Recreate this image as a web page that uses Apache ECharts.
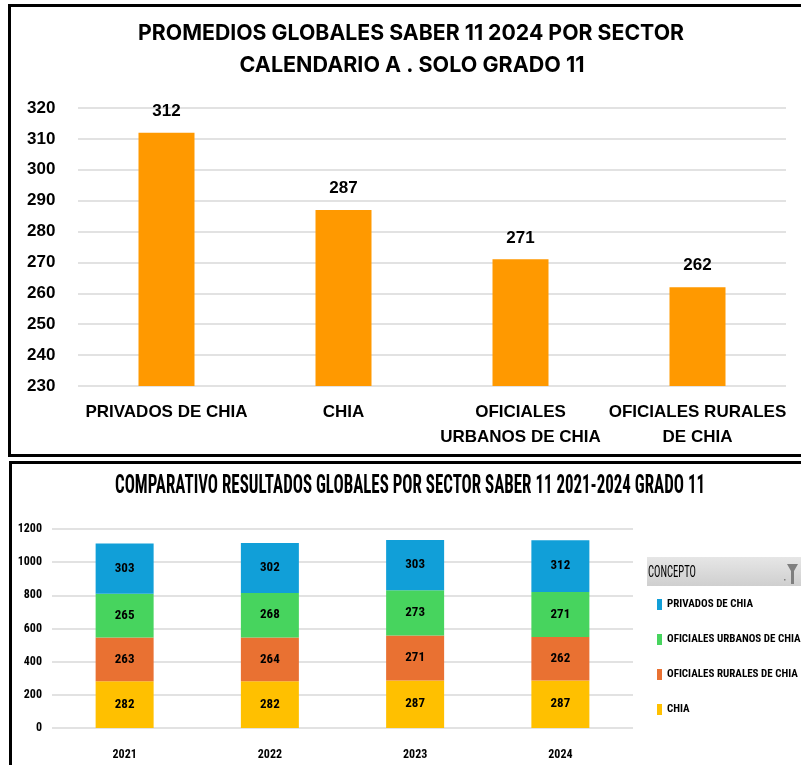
<!DOCTYPE html>
<html>
<head>
<meta charset="utf-8">
<script src="https://cdn.jsdelivr.net/npm/echarts@6/dist/echarts.min.js"></script>
<style>
  html, body { margin: 0; padding: 0; background: #fff; }
  #chart { position: absolute; left: 0; top: 0; width: 801px; height: 765px; }
  .box { position: absolute; border: 3px solid #000; box-sizing: border-box; pointer-events: none; }
</style>
</head>
<body>
<div id="chart"></div>
<div class="box" style="left:8px; top:4px; width:820px; height:453px;"></div>
<div class="box" style="left:9px; top:461px; width:820px; height:330px;"></div>
<script>
// Top chart: 2024 averages by sector
const topCats = ['PRIVADOS DE CHIA', 'CHIA', 'OFICIALES\nURBANOS DE CHIA', 'OFICIALES RURALES\nDE CHIA'];
const topVals = [312, 287, 271, 262];

// Bottom chart: 2021-2024 stacked comparison
const years = ['2021', '2022', '2023', '2024'];
const chia = [282, 282, 287, 287];
const rurales = [263, 264, 271, 262];
const urbanos = [265, 268, 273, 271];
const privados = [303, 302, 303, 312];
const legendNames = ['PRIVADOS DE CHIA', 'OFICIALES URBANOS DE CHIA', 'OFICIALES RURALES DE CHIA', 'CHIA'];

const COND = '"Roboto Condensed", "DejaVu Sans Condensed", sans-serif';
const ARIAL = '"Liberation Sans", Arial, sans-serif';
const INTER = 'Inter, "Liberation Sans", sans-serif';

// squeeze a text horizontally so it spans a given width (reference uses a narrower face)
const ctx = document.createElement('canvas').getContext('2d');
const fitX = (text, font, width) => { ctx.font = font; return width / ctx.measureText(text).width; };

const titleText = (text, x, y, font, width, align) => ({
  type: 'text', x, y, scaleX: width ? fitX(text, font, width) : 1,
  style: { text, x: 0, y: 0, align: align || 'center', verticalAlign: 'middle', textAlign: align || 'center', textVerticalAlign: 'middle', font, fill: '#000' }
});

const segLabel = { show: true, position: 'inside', color: '#000', fontFamily: COND, fontWeight: 'bold', fontSize: 13 };
const stacked = (name, data, color) => ({
  name, type: 'bar', stack: 'tot', xAxisIndex: 1, yAxisIndex: 1,
  data, barWidth: 58, itemStyle: { color }, label: segLabel
});

const bottomTitle = 'COMPARATIVO RESULTADOS GLOBALES POR SECTOR SABER 11 2021-2024 GRADO 11';

const chart = echarts.init(document.getElementById('chart'), null, { renderer: 'canvas' });
chart.setOption({
  animation: false,
  grid: [
    { left: 78, right: 15, top: 108, height: 278 },
    { left: 52, right: 168, top: 529, height: 199 }
  ],
  xAxis: [
    {
      gridIndex: 0, type: 'category', data: topCats,
      axisLine: { show: false }, axisTick: { show: false },
      axisLabel: { interval: 0, margin: 14, color: '#000', fontFamily: ARIAL, fontWeight: 'bold', fontSize: 17, lineHeight: 25, verticalAlign: 'top' }
    },
    {
      gridIndex: 1, type: 'category', data: years,
      axisLine: { show: false }, axisTick: { show: false },
      axisLabel: { margin: 21, color: '#000', fontFamily: COND, fontWeight: 'bold', fontSize: 12 }
    }
  ],
  yAxis: [
    {
      gridIndex: 0, type: 'value', min: 230, max: 320, interval: 10,
      axisLine: { show: false }, axisTick: { show: false },
      splitLine: { lineStyle: { color: '#d9d9d9', width: 1.5 } },
      axisLabel: { align: 'left', margin: 51, color: '#000', fontFamily: ARIAL, fontWeight: 'bold', fontSize: 17 }
    },
    {
      gridIndex: 1, type: 'value', min: 0, max: 1200, interval: 200,
      axisLine: { show: false }, axisTick: { show: false },
      splitLine: { lineStyle: { color: '#d9d9d9', width: 1.5 } },
      axisLabel: { margin: 10, color: '#000', fontFamily: COND, fontWeight: 'bold', fontSize: 12, formatter: (v) => String(v) }
    }
  ],
  legend: {
    orient: 'vertical', left: 652, top: 594,
    itemWidth: 5, itemHeight: 11, itemGap: 24, icon: 'rect',
    data: legendNames,
    textStyle: { color: '#000', fontFamily: COND, fontWeight: 'bold', fontSize: 11 }
  },
  series: [
    {
      type: 'bar', xAxisIndex: 0, yAxisIndex: 0, data: topVals, barWidth: 56,
      itemStyle: { color: '#ff9900' },
      label: { show: true, position: 'top', distance: 13, color: '#000', fontFamily: ARIAL, fontWeight: 'bold', fontSize: 17 }
    },
    stacked('CHIA', chia, '#ffc000'),
    stacked('OFICIALES RURALES DE CHIA', rurales, '#e97132'),
    stacked('OFICIALES URBANOS DE CHIA', urbanos, '#47d45e'),
    stacked('PRIVADOS DE CHIA', privados, '#119fd8')
  ],
  graphic: [
    titleText('PROMEDIOS GLOBALES SABER 11 2024 POR SECTOR', 411, 33, 'bold 22px ' + INTER, 546),
    titleText('CALENDARIO A . SOLO GRADO 11', 412, 65, 'bold 22px ' + INTER, 345),
    titleText(bottomTitle, 410, 487, 'bold 25px ' + COND, 590),
    {
      type: 'rect', shape: { x: 647, y: 557, width: 160, height: 29 },
      style: { fill: new echarts.graphic.LinearGradient(0, 0, 0, 1, [{ offset: 0, color: '#e6e6e6' }, { offset: 1, color: '#cfcfcf' }]) }
    },
    titleText('CONCEPTO', 648, 573, '16px ' + COND, 48, 'left'),
    { type: 'polygon', shape: { points: [[787, 564], [798, 564], [794, 571], [794, 584], [791, 584], [791, 571]] }, style: { fill: '#7f7f7f' } },
    { type: 'rect', shape: { x: 784, y: 579, width: 1.5, height: 1.5 }, style: { fill: '#7f7f7f' } }
  ]
});
</script>
</body>
</html>
